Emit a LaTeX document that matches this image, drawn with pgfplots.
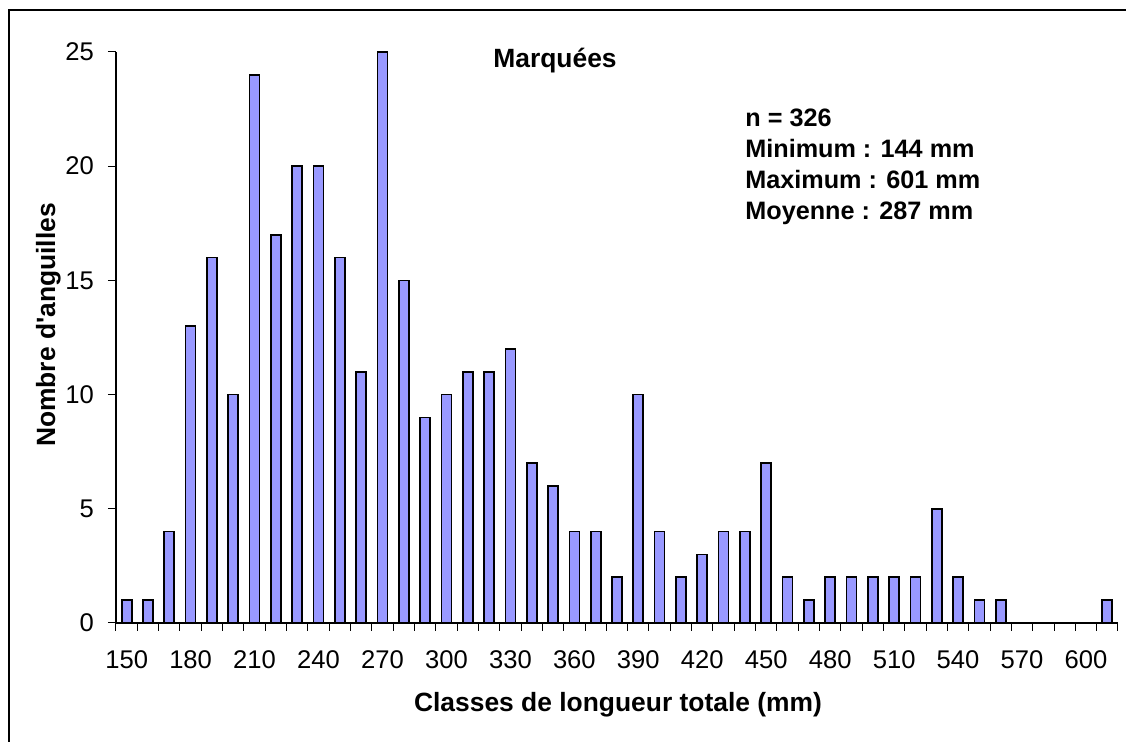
\documentclass[border=0pt]{standalone}
\usepackage{fontspec}
\setmainfont{Liberation Sans}
\usepackage{pgfplots}
\pgfplotsset{compat=1.18}
\definecolor{barFill}{HTML}{9999FF}

\begin{document}
\begin{tikzpicture}
\useasboundingbox (0,0) rectangle (563pt,371pt);
% chart frame (only left and top edges show)
\draw[line width=0.6pt] (4.5pt,0) -- (4.5pt,366pt) -- (563pt,366pt);
\begin{axis}[
  at={(58pt,59.5pt)}, anchor=south west,
  scale only axis, width=501pt, height=285.5pt,
  axis x line*=bottom, axis y line*=left,
  axis line style={black, line width=0.6pt},
  xmin=145, xmax=615, ymin=0, ymax=25,
  xtick={150,180,...,600},
  minor xtick={145,155,...,615},
  ytick={0,5,...,25},
  tick align=outside,
  major tick length=4pt, minor tick length=4pt,
  major x tick style={draw=none},
  minor x tick style={black, line width=0.5pt},
  major y tick style={black, line width=0.5pt},
  /pgf/number format/assume math mode=true,
  /pgf/number format/set thousands separator={},
  tick label style={font=\fontsize{12.8}{15}\selectfont},
  xticklabel style={yshift=-6.5pt},
  yticklabel style={xshift=-3.5pt},
  ybar, bar width=5pt,
]
\addplot[fill=barFill, draw=black, line width=0.85pt] coordinates {
  (150,1) (160,1) (170,4) (180,13) (190,16) (200,10) (210,24) (220,17)
  (230,20) (240,20) (250,16) (260,11) (270,25) (280,15) (290,9) (300,10)
  (310,11) (320,11) (330,12) (340,7) (350,6) (360,4) (370,4) (380,2)
  (390,10) (400,4) (410,2) (420,3) (430,4) (440,4) (450,7) (460,2)
  (470,1) (480,2) (490,2) (500,2) (510,2) (520,2) (530,5) (540,2)
  (550,1) (560,1) (610,1)
};
\end{axis}
% labels and notes
\node[anchor=base, font=\fontsize{13.2}{15}\selectfont\bfseries] at (309pt,15pt)
  {Classes de longueur totale (mm)};
\node[anchor=base, rotate=90, font=\fontsize{13.2}{15}\selectfont\bfseries] at (27.5pt,208.5pt)
  {Nombre d\textquotesingle anguilles};
\node[anchor=base, font=\fontsize{13.2}{15}\selectfont\bfseries] at (277.5pt,337pt) {Marquées};
\begin{scope}[every node/.style={anchor=base west, inner sep=0pt,
    font=\fontsize{12.6}{15}\selectfont\bfseries}]
  \node at (372.5pt,307.5pt) {n = 326};
  \node at (372.5pt,292pt) {Minimum : 144 mm};
  \node at (372.5pt,276.5pt) {Maximum : 601 mm};
  \node at (372.5pt,261pt) {Moyenne : 287 mm};
\end{scope}
\end{tikzpicture}
\end{document}
